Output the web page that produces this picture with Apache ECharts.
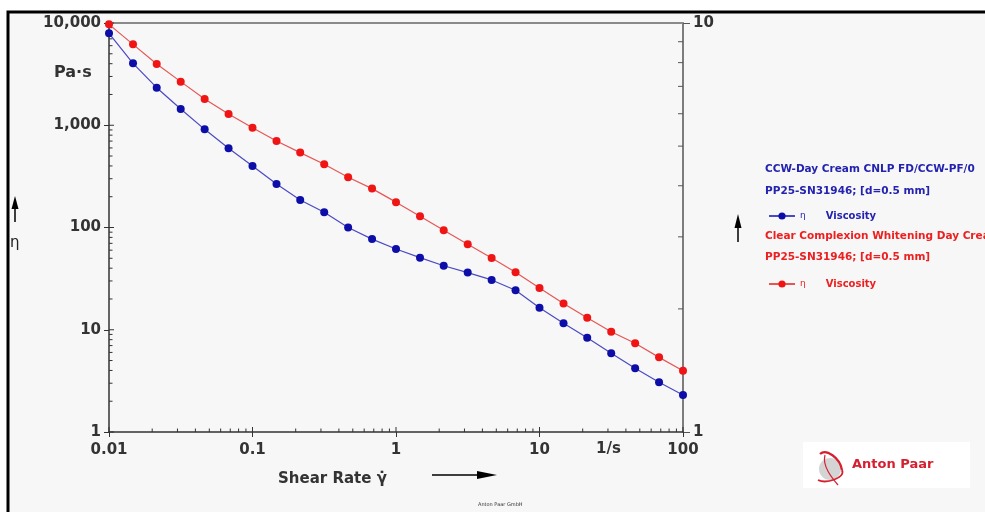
<!DOCTYPE html>
<html>
<head>
<meta charset="utf-8">
<script src="https://cdn.jsdelivr.net/npm/echarts@6/dist/echarts.min.js"></script>
<style>
html,body{margin:0;padding:0;background:#ffffff;}
#chart{width:985px;height:512px;}
</style>
</head>
<body>
<div id="chart"></div>
<script>
// ---- data ----
const shearRate = [0.01, 0.0147, 0.0215, 0.0316, 0.0464, 0.0681, 0.1, 0.147, 0.215, 0.316, 0.464, 0.681,
  1, 1.47, 2.15, 3.16, 4.64, 6.81, 10, 14.7, 21.5, 31.6, 46.4, 68.1, 100];
const viscosityCCW = [7930, 4035, 2330, 1443, 912, 595, 399, 266, 186, 141, 100, 77,
  61.7, 50.7, 42.3, 36.2, 30.7, 24.3, 16.4, 11.6, 8.36, 5.89, 4.20, 3.06, 2.30];
const viscosityClear = [9700, 6180, 3970, 2670, 1805, 1288, 946, 702, 540, 415, 310, 240,
  177, 129, 94, 68.6, 50.3, 36.5, 25.6, 18.1, 13.1, 9.57, 7.37, 5.37, 3.98];

const xTickValues = [0.01, 0.1, 1, 10, 100];
const xTickLabels = ['0.01', '0.1', '1', '10', '100'];
const yTickValues = [1, 10, 100, 1000, 10000];
const yTickLabels = ['1', '10', '100', '1,000', '10,000'];
const rTickValues = [1, 10];
const rTickLabels = ['1', '10'];
const minorMultipliers = [2, 3, 4, 5, 6, 7, 8, 9];

const nameCCW = 'CCW-Day Cream CNLP FD/CCW-PF/0 Viscosity';
const nameClear = 'Clear Complexion Whitening Day Cream Viscosity';
const legendHeaderCCW = ['CCW-Day Cream CNLP FD/CCW-PF/0', 'PP25-SN31946; [d=0.5 mm]'];
const legendHeaderClear = ['Clear Complexion Whitening Day Cream', 'PP25-SN31946; [d=0.5 mm]'];

// ---- helpers ----
function minorsOf(decades) {
  const out = [];
  for (let i = 0; i < decades.length - 1; i++) {
    minorMultipliers.forEach(m => out.push(decades[i] * m));
  }
  return out;
}
function labelFor(values, labels) {
  return function (v) {
    let best = 0, bd = Infinity;
    values.forEach((t, i) => {
      const d = Math.abs(Math.log10(v) - Math.log10(t));
      if (d < bd) { bd = d; best = i; }
    });
    return labels[best];
  };
}

const FONT = 'DejaVu Sans';
const AX = '#333333';

const xTickData = xTickValues.map(v => [v, 1, 1]).concat(minorsOf(xTickValues).map(v => [v, 1, 0]));
const yTickData = yTickValues.map(v => [0.01, v, 1]).concat(minorsOf(yTickValues).map(v => [0.01, v, 0]));
const rTickData = minorsOf(rTickValues).map(v => [100, v, 0]);

function tickRenderer(dir) {
  return function (params, api) {
    const p = api.coord([api.value(0), api.value(1)]);
    const major = api.value(2) === 1;
    const len = major ? 5 : 3.5;
    let shape;
    if (dir === 'up') shape = { x1: p[0], y1: p[1], x2: p[0], y2: p[1] - len };
    else if (dir === 'right') shape = { x1: p[0], y1: p[1], x2: p[0] + len, y2: p[1] };
    else shape = { x1: p[0], y1: p[1], x2: p[0] - 5, y2: p[1] };
    return { type: 'line', shape: shape, style: { stroke: dir === 'left' ? '#555' : AX, lineWidth: 1 } };
  };
}

const blueMark = '#0d0da8', blueLine = '#4a4ac4';
const redMark = '#f01515', redLine = '#e85555';
const blueText = '#2323b0', redText = '#ec2020';

const chart = echarts.init(document.getElementById('chart'));

const option = {
  backgroundColor: '#ffffff',
  animation: false,
  grid: { left: 109, right: 302, top: 23, bottom: 80, containLabel: false },
  xAxis: [{
    type: 'log', logBase: 10, min: 0.01, max: 100, interval: 1,
    axisLine: { lineStyle: { color: AX, width: 1.5 } },
    axisTick: { show: true, inside: false, length: 5, lineStyle: { color: AX } },
    minorTick: { show: false },
    splitLine: { show: false },
    axisLabel: { formatter: labelFor(xTickValues, xTickLabels), fontFamily: FONT, fontWeight: 'bold', fontSize: 15, color: '#333', margin: 11 }
  }, {
    type: 'log', logBase: 10, min: 0.01, max: 100, interval: 1, position: 'top',
    axisLine: { lineStyle: { color: '#8a8a8a', width: 2 } },
    axisTick: { show: false }, axisLabel: { show: false }, splitLine: { show: false }
  }],
  yAxis: [{
    type: 'log', logBase: 10, min: 1, max: 10000, interval: 1, position: 'left',
    axisLine: { show: true, lineStyle: { color: AX, width: 1.5 } },
    axisTick: { show: true, inside: false, length: 5, lineStyle: { color: AX } },
    splitLine: { show: false },
    axisLabel: { formatter: labelFor(yTickValues, yTickLabels), fontFamily: FONT, fontWeight: 'bold', fontSize: 15, color: '#333', margin: 8 }
  }, {
    type: 'log', logBase: 10, min: 1, max: 10, interval: 1, position: 'right',
    axisLine: { show: true, lineStyle: { color: '#555', width: 1.5 } },
    axisTick: { show: true, inside: false, length: 7, lineStyle: { color: '#555' } },
    splitLine: { show: false },
    axisLabel: { formatter: labelFor(rTickValues, rTickLabels), fontFamily: FONT, fontWeight: 'bold', fontSize: 15, color: '#333', margin: 10 }
  }],
  legend: [{
    data: [nameCCW], left: 763, top: 205, selectedMode: false,
    itemWidth: 26, itemHeight: 9, itemGap: 0,
    formatter: function () { return '{e|\u03b7}      {v|Viscosity}'; },
    textStyle: { color: blueText, rich: { e: { fontSize: 9, fontFamily: FONT, color: blueText }, v: { fontSize: 10, fontFamily: FONT, fontWeight: 'bold', color: blueText } } }
  }, {
    data: [nameClear], left: 763, top: 273, selectedMode: false,
    itemWidth: 26, itemHeight: 9, itemGap: 0,
    formatter: function () { return '{e|\u03b7}      {v|Viscosity}'; },
    textStyle: { color: redText, rich: { e: { fontSize: 9, fontFamily: FONT, color: redText }, v: { fontSize: 10, fontFamily: FONT, fontWeight: 'bold', color: redText } } }
  }],
  graphic: [
    { type: 'rect', z: -10, silent: true, shape: { x: 8, y: 12, width: 990, height: 510 }, style: { fill: '#f7f7f7', stroke: '#000', lineWidth: 3 } },
    { type: 'text', left: 54, top: 65, style: { text: 'Pa\u00b7s', font: 'bold 16px "DejaVu Sans"', fill: '#333' } },
    { type: 'text', left: 10, top: 236, style: { text: '\u03b7', font: '15px "DejaVu Sans"', fill: '#222' } },
    // left arrow
    { type: 'line', shape: { x1: 15, y1: 222, x2: 15, y2: 204 }, style: { stroke: '#000', lineWidth: 1.5 } },
    { type: 'polygon', shape: { points: [[15, 196], [11.5, 209], [18.5, 209]] }, style: { fill: '#000' } },
    // right arrow
    { type: 'line', shape: { x1: 738, y1: 242, x2: 738, y2: 222 }, style: { stroke: '#000', lineWidth: 1.5 } },
    { type: 'polygon', shape: { points: [[738, 214], [734.5, 228], [741.5, 228]] }, style: { fill: '#000' } },
    // x title
    { type: 'text', left: 278, top: 472, style: { text: 'Shear Rate \u03b3\u0307', font: 'bold 15px "DejaVu Sans"', fill: '#333' } },
    { type: 'line', shape: { x1: 432, y1: 475, x2: 482, y2: 475 }, style: { stroke: '#000', lineWidth: 1.5 } },
    { type: 'polygon', shape: { points: [[477, 471], [497, 475], [477, 479]] }, style: { fill: '#000' } },
    { type: 'text', left: 596, top: 442, style: { text: '1/s', font: 'bold 15px "DejaVu Sans"', fill: '#333' } },
    { type: 'text', left: 478, top: 502, style: { text: 'Anton Paar GmbH', font: '5px "DejaVu Sans"', fill: '#333' } },
    // legend headers
    { type: 'text', left: 765, top: 164, style: { text: legendHeaderCCW[0], font: 'bold 10.5px "DejaVu Sans"', fill: blueText } },
    { type: 'text', left: 765, top: 186, style: { text: legendHeaderCCW[1], font: 'bold 10.5px "DejaVu Sans"', fill: blueText } },
    { type: 'text', left: 765, top: 231, style: { text: legendHeaderClear[0], font: 'bold 10.5px "DejaVu Sans"', fill: redText } },
    { type: 'text', left: 765, top: 252, style: { text: legendHeaderClear[1], font: 'bold 10.5px "DejaVu Sans"', fill: redText } },
    // logo
    { type: 'rect', shape: { x: 803, y: 442, width: 167, height: 46 }, style: { fill: '#ffffff' } },
    { type: 'circle', shape: { cx: 830, cy: 469, r: 11 }, style: { fill: '#d4d4d4' } },
    { type: 'bezierCurve', shape: { x1: 820, y1: 454, x2: 842, y2: 470, cpx1: 826, cpy1: 448, cpx2: 840, cpy2: 458 }, style: { stroke: '#d42030', lineWidth: 2.2, fill: null } },
    { type: 'bezierCurve', shape: { x1: 842, y1: 470, x2: 818, y2: 480, cpx1: 846, cpy1: 478, cpx2: 826, cpy2: 484 }, style: { stroke: '#d42030', lineWidth: 1.8, fill: null } },
    { type: 'bezierCurve', shape: { x1: 825, y1: 455, x2: 838, y2: 485, cpx1: 822, cpy1: 466, cpx2: 832, cpy2: 478 }, style: { stroke: '#d42030', lineWidth: 1.2, fill: null } },
    { type: 'text', left: 852, top: 458, style: { text: 'Anton Paar', font: 'bold 13px "DejaVu Sans"', fill: '#d42030' } }
  ],
  series: [{
    name: nameCCW, type: 'line', xAxisIndex: 0, yAxisIndex: 0, clip: false,
    data: shearRate.map((x, i) => [x, viscosityCCW[i]]),
    symbol: 'circle', symbolSize: 8,
    lineStyle: { color: blueLine, width: 1.2 },
    itemStyle: { color: blueMark }, z: 3
  }, {
    name: nameClear, type: 'line', xAxisIndex: 0, yAxisIndex: 0, clip: false,
    data: shearRate.map((x, i) => [x, viscosityClear[i]]),
    symbol: 'circle', symbolSize: 8,
    lineStyle: { color: redLine, width: 1.2 },
    itemStyle: { color: redMark }, z: 3
  }, {
    type: 'custom', xAxisIndex: 0, yAxisIndex: 0, clip: false, silent: true,
    encode: { x: 0, y: 1 }, renderItem: tickRenderer('up'), data: xTickData, z: 1
  }, {
    type: 'custom', xAxisIndex: 0, yAxisIndex: 0, clip: false, silent: true,
    encode: { x: 0, y: 1 }, renderItem: tickRenderer('right'), data: yTickData, z: 1
  }, {
    type: 'custom', xAxisIndex: 0, yAxisIndex: 1, clip: false, silent: true,
    encode: { x: 0, y: 1 }, renderItem: tickRenderer('left'), data: rTickData, z: 1
  }]
};
chart.setOption(option);
</script>
</body>
</html>
